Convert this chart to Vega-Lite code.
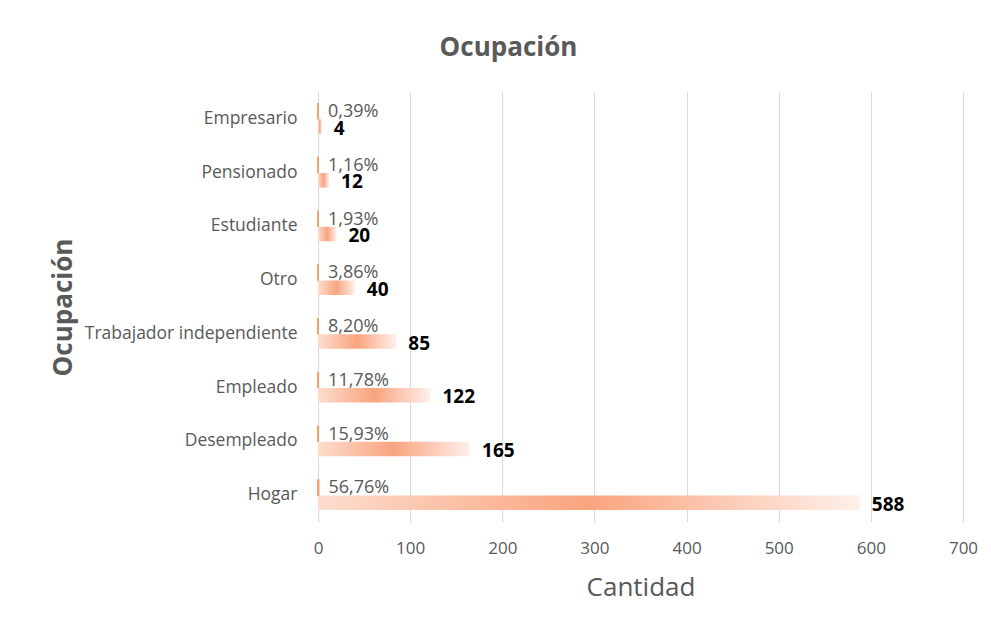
{
  "$schema": "https://vega.github.io/schema/vega-lite/v6.json",
  "width": 645,
  "height": 430,
  "autosize": {"type": "none"},
  "padding": {"left": 318, "top": 92, "right": 28, "bottom": 108},
  "background": "#ffffff",
  "title": {
    "text": "Ocupación",
    "font": "Open Sans",
    "fontSize": 26,
    "fontWeight": "bold",
    "color": "#595959",
    "anchor": "middle",
    "dx": -132,
    "offset": 31
  },
  "config": {
    "view": {"stroke": null},
    "locale": {
      "number": {"decimal": ",", "thousands": ".", "grouping": [3], "currency": ["", " €"]}
    }
  },
  "data": {
    "values": [
      {"cat": "Empresario", "series": "pct", "value": 0.0039},
      {"cat": "Pensionado", "series": "pct", "value": 0.0116},
      {"cat": "Estudiante", "series": "pct", "value": 0.0193},
      {"cat": "Otro", "series": "pct", "value": 0.0386},
      {"cat": "Trabajador independiente", "series": "pct", "value": 0.0820},
      {"cat": "Empleado", "series": "pct", "value": 0.1178},
      {"cat": "Desempleado", "series": "pct", "value": 0.1593},
      {"cat": "Hogar", "series": "pct", "value": 0.5676},
      {"cat": "Empresario", "series": "count", "value": 4},
      {"cat": "Pensionado", "series": "count", "value": 12},
      {"cat": "Estudiante", "series": "count", "value": 20},
      {"cat": "Otro", "series": "count", "value": 40},
      {"cat": "Trabajador independiente", "series": "count", "value": 85},
      {"cat": "Empleado", "series": "count", "value": 122},
      {"cat": "Desempleado", "series": "count", "value": 165},
      {"cat": "Hogar", "series": "count", "value": 588}
    ]
  },
  "encoding": {
    "y": {
      "field": "cat",
      "type": "nominal",
      "sort": ["Empresario", "Pensionado", "Estudiante", "Otro", "Trabajador independiente", "Empleado", "Desempleado", "Hogar"],
      "scale": {"paddingInner": 0, "paddingOuter": 0},
      "axis": {
        "title": "Ocupación",
        "titleFont": "Open Sans",
        "titleFontSize": 26,
        "titleFontWeight": "bold",
        "titleColor": "#595959",
        "titlePadding": 42,
        "labelFont": "Open Sans",
        "labelFontSize": 17.5,
        "labelColor": "#595959",
        "labelPadding": 21,
        "labelLimit": 0,
        "domain": false,
        "ticks": false,
        "grid": false
      }
    },
    "yOffset": {
      "field": "series",
      "type": "nominal",
      "sort": ["pct", "count"],
      "scale": {"domain": ["pct", "count"], "paddingInner": 0.05, "paddingOuter": 0.786}
    }
  },
  "layer": [
    {
      "transform": [{"filter": "datum.series === 'count'"}],
      "mark": {
        "type": "bar",
        "color": {
          "gradient": "linear",
          "x1": 0, "x2": 1, "y1": 0, "y2": 0,
          "stops": [
            {"offset": 0, "color": "#FDDDCE"},
            {"offset": 0.5, "color": "#F9A47F"},
            {"offset": 1, "color": "#FFF0EA"}
          ]
        }
      },
      "encoding": {
        "x": {
          "field": "value",
          "type": "quantitative",
          "scale": {"domain": [0, 700], "nice": false},
          "axis": {
            "title": "Cantidad",
            "titleFont": "Open Sans",
            "titleFontSize": 26,
            "titleFontWeight": "normal",
            "titleColor": "#595959",
            "titlePadding": 18,
            "values": [0, 100, 200, 300, 400, 500, 600, 700],
            "labelFont": "Open Sans",
            "labelFontSize": 17,
            "labelColor": "#595959",
            "labelPadding": 18,
            "labelFlush": false,
            "domain": false,
            "ticks": false,
            "grid": true,
            "gridColor": "#D9D9D9",
            "gridWidth": 1
          }
        }
      }
    },
    {
      "transform": [{"filter": "datum.series === 'pct'"}],
      "mark": {"type": "bar", "color": "#F3A26E", "stroke": "#F3A26E", "strokeWidth": 2},
      "encoding": {
        "x": {"field": "value", "type": "quantitative"}
      }
    },
    {
      "transform": [{"filter": "datum.series === 'pct'"}],
      "mark": {"type": "text", "align": "left", "baseline": "middle", "dx": 10, "dy": 1, "font": "Open Sans", "fontSize": 18, "color": "#595959"},
      "encoding": {
        "x": {"field": "value", "type": "quantitative"},
        "text": {"field": "value", "type": "quantitative", "format": ".2%"}
      }
    },
    {
      "transform": [{"filter": "datum.series === 'count'"}],
      "mark": {"type": "text", "align": "left", "baseline": "middle", "dx": 12, "dy": 2, "font": "Open Sans", "fontSize": 19, "fontWeight": "bold", "color": "#000000"},
      "encoding": {
        "x": {"field": "value", "type": "quantitative"},
        "text": {"field": "value", "type": "quantitative", "format": "d"}
      }
    }
  ]
}
